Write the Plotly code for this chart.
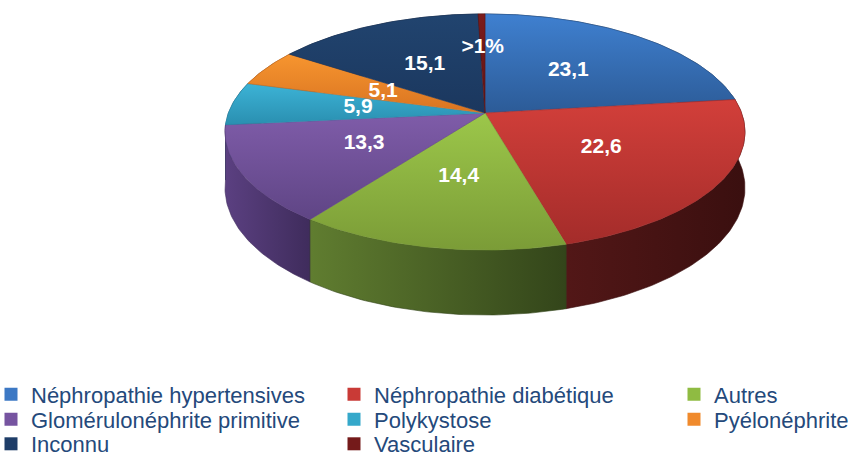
import numpy as np
import plotly.graph_objects as go

# ---------------- data ----------------
categories = ["Néphropathie hypertensives", "Néphropathie diabétique", "Autres",
              "Glomérulonéphrite primitive", "Polykystose", "Pyélonéphrite",
              "Inconnu", "Vasculaire"]
values = [23.1, 22.6, 14.4, 13.3, 5.9, 5.1, 15.1, 0.5]
value_labels = ["23,1", "22,6", "14,4", "13,3", "5,9", "5,1", "15,1", ">1%"]

# ---------------- styles ----------------
top_light = ["#3f80d0", "#d23f3a", "#9cc74a", "#7f5ca9", "#3cb3d6", "#f7952f", "#21446f", "#7c1c1c"]
top_dark = ["#2c5b97", "#a42c2a", "#7b9c37", "#5f4585", "#2a8fb0", "#d97421", "#1b375e", "#5e1414"]
side_light = ["#2a5080", "#521717", "#607d30", "#5b4081", "#22728c", "#9c5418", "#15294a", "#4a1010"]
side_dark = ["#1a3250", "#3a0f0f", "#33451a", "#3f2c5c", "#16485a", "#6a3a10", "#0f1d35", "#300a0a"]
legend_colors = ["#3c78c4", "#c93a36", "#8fbb42", "#7654a0", "#35a8ca", "#f08a2c", "#1e3d68", "#741a1a"]
label_radius = [0.52, 0.52, 0.52, 0.52, 0.5, 0.45, 0.52, 0.62]

W, HGT = 855, 457
CX, CY = 485.0, 113.0          # apex of the pie on screen (px)
A, B, K, DEPTH = 256.6, 115.0, 0.161, 54.5
LEG_COL_X = [-9, 334, 674]      # px
LEG_ROW_Y = [394.5, 419.5, 444]  # px (text centre)


def project(a, b, drop=0.0):
    w = 1.0 - K * b
    x = CX + A * a / w
    y = CY + (B * b + drop) / w
    return x, -y  # y axis points up


total = float(np.sum(values))
fracs = np.array(values) / total
ends = np.cumsum(fracs) * 2 * np.pi
starts = ends - fracs * 2 * np.pi

fig = go.Figure()

# side walls (back to front)
walls = []
for i in range(len(values)):
    th = np.linspace(starts[i], ends[i], max(4, int(fracs[i] * 400)))
    a, b = np.sin(th), -np.cos(th)
    xt, yt = project(a, b)
    xb, yb = project(a[::-1], b[::-1], DEPTH)
    xs = np.concatenate([xt, xb, xt[:1]])
    ys = np.concatenate([yt, yb, yt[:1]])
    walls.append((np.mean(b), i, xs, ys))
walls.sort(key=lambda t: t[0])
for _, i, xs, ys in walls:
    fig.add_trace(go.Scatter(
        x=xs, y=ys, mode="lines", fill="toself",
        line=dict(width=0.6, color=side_dark[i]),
        fillgradient=dict(type="horizontal",
                          colorscale=[[0, side_light[i]], [1, side_dark[i]]]),
        hoverinfo="skip", showlegend=False))

# top faces
for i in range(len(values)):
    th = np.linspace(starts[i], ends[i], max(4, int(fracs[i] * 400)))
    a, b = np.sin(th), -np.cos(th)
    xt, yt = project(a, b)
    xs = np.concatenate([[CX], xt, [CX]])
    ys = np.concatenate([[-CY], yt, [-CY]])
    fig.add_trace(go.Scatter(
        x=xs, y=ys, mode="lines", fill="toself",
        line=dict(width=0.6, color=top_dark[i]),
        fillgradient=dict(type="vertical",
                          colorscale=[[0, top_dark[i]], [1, top_light[i]]]),
        hoverinfo="skip", showlegend=False))

# value labels
mid = (starts + ends) / 2
lr = np.array(label_radius)
lx, ly = project(lr * np.sin(mid), -lr * np.cos(mid))
fig.add_trace(go.Scatter(
    x=lx, y=ly, mode="text", text=value_labels,
    textfont=dict(family="Liberation Sans, Arial, sans-serif", size=21,
                  color="white", weight="bold"),
    hoverinfo="skip", showlegend=False))

# legend entries: one legend per entry, 3 columns
leg_common = dict(font=dict(family="Liberation Sans, Arial, sans-serif", size=22, color="#24497b"),
                  bgcolor="rgba(0,0,0,0)", borderwidth=0, tracegroupgap=0,
                  xanchor="left", yanchor="middle", itemclick=False,
                  itemdoubleclick=False)
legend_layout = {}
for i, name in enumerate(categories):
    key = "legend" if i == 0 else f"legend{i + 1}"
    fig.add_trace(go.Scatter(
        x=[None], y=[None], mode="markers", name=name,
        marker=dict(symbol="square", size=13, color=legend_colors[i], line=dict(width=0)),
        legend=key, showlegend=True))
    legend_layout[key] = dict(x=LEG_COL_X[i % 3] / W, y=1 - LEG_ROW_Y[i // 3] / HGT, **leg_common)

fig.update_layout(
    width=W, height=HGT,
    margin=dict(l=0, r=0, t=0, b=0, autoexpand=False),
    paper_bgcolor="white", plot_bgcolor="white",
    xaxis=dict(range=[0, W], visible=False, fixedrange=True),
    yaxis=dict(range=[-HGT, 0], visible=False, fixedrange=True),
    showlegend=True,
    **legend_layout,
)

fig.write_html("out.html", config={"displayModeBar": False},
               post_script="document.body.style.margin='0';document.body.style.padding='0';")
